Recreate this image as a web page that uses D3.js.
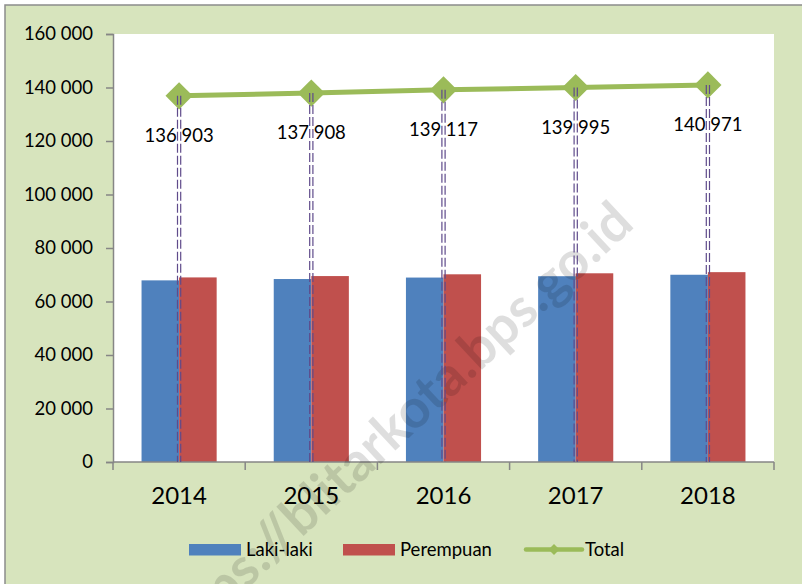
<!DOCTYPE html>
<html>
<head>
<meta charset="utf-8">
<script src="https://cdn.jsdelivr.net/npm/d3@7"></script>
<style>
  body { margin: 0; background: #ffffff; }
  svg { display: block; font-family: Lato, "Open Sans", sans-serif; }
</style>
</head>
<body>
<div id="chart"></div>
<script>
// Data
var years = ["2014", "2015", "2016", "2017", "2018"];
var lakiLaki = [67900, 68400, 68950, 69450, 70000];
var perempuan = [69003, 69508, 70167, 70545, 70971];
var total = [136903, 137908, 139117, 139995, 140971];
var yTicks = [0, 20000, 40000, 60000, 80000, 100000, 120000, 140000, 160000];
var seriesNames = ["Laki-laki", "Perempuan", "Total"];

var W = 802, H = 584;
var plot = { left: 113, right: 774, top: 34, bottom: 462 };

var colors = { laki: "#4f81bd", perempuan: "#c0504d", total: "#9bbb59", drop: "#5f4b8b", axis: "#868686" };

var fmt = d3.formatLocale({ decimal: ",", thousands: " ", grouping: [3], currency: ["", ""] }).format(",d");

var svg = d3.select("#chart")
  .append("svg")
    .attr("width", W)
    .attr("height", H);

// chart area background + frame
svg.append("rect")
  .attr("x", 5).attr("y", 5)
  .attr("width", W + 10).attr("height", H + 10)
  .style("fill", "#d7e4bd")
  .style("stroke", "#8c8c8c")
  .style("stroke-width", 1.5);

// plot area
svg.append("rect")
  .attr("x", plot.left).attr("y", plot.top)
  .attr("width", plot.right - plot.left)
  .attr("height", plot.bottom - plot.top)
  .style("fill", "#ffffff");

// scales
var x = d3.scaleBand()
  .domain(years)
  .range([plot.left, plot.right]);

var x1 = d3.scaleBand()
  .domain(["laki", "perempuan"])
  .range([0, x.bandwidth()])
  .paddingInner(0)
  .paddingOuter(0.76);

var y = d3.scaleLinear()
  .domain([0, 160000])
  .range([plot.bottom, plot.top]);

// y axis
var yAxis = svg.append("g")
  .attr("transform", "translate(" + plot.left + ",0)")
  .call(d3.axisLeft(y).tickValues(yTicks).tickFormat(fmt).tickSize(7).tickPadding(13));
yAxis.select(".domain").style("stroke", colors.axis).style("stroke-width", 1.5);
yAxis.selectAll(".tick line").style("stroke", colors.axis).style("stroke-width", 1.5);
yAxis.selectAll(".tick text")
  .style("font-family", "Lato, sans-serif")
  .style("font-size", "18.5px")
  .style("fill", "#000");

// bars
var rows = years.map(function (yr, i) {
  return { year: yr, laki: lakiLaki[i], perempuan: perempuan[i], total: total[i] };
});

var groups = svg.selectAll(".year")
  .data(rows)
  .enter()
  .append("g")
    .attr("class", "year")
    .attr("transform", d => "translate(" + x(d.year) + ",0)");

groups.selectAll("rect")
  .data(d => [{ key: "laki", v: d.laki }, { key: "perempuan", v: d.perempuan }])
  .enter()
  .append("rect")
    .attr("x", d => x1(d.key))
    .attr("y", d => y(d.v))
    .attr("width", x1.bandwidth())
    .attr("height", d => plot.bottom - y(d.v))
    .style("fill", d => colors[d.key]);

// x axis
var xAxis = svg.append("g")
  .attr("transform", "translate(0," + plot.bottom + ")");
xAxis.append("line")
  .attr("x1", plot.left).attr("x2", plot.right)
  .attr("y1", 0).attr("y2", 0)
  .style("stroke", colors.axis).style("stroke-width", 1.5);
var edges = years.map(d => x(d)).concat([plot.right]);
xAxis.selectAll(".xtick")
  .data(edges)
  .enter()
  .append("line")
    .attr("x1", d => d).attr("x2", d => d)
    .attr("y1", 0).attr("y2", 8)
    .style("stroke", colors.axis).style("stroke-width", 1.5);
xAxis.selectAll(".xlabel")
  .data(years)
  .enter()
  .append("text")
    .attr("x", d => x(d) + x.bandwidth() / 2)
    .attr("y", 42)
    .attr("text-anchor", "middle")
    .style("font-size", "24px")
    .text(d => d);

// watermark
svg.append("text")
  .attr("transform", "translate(636,226) rotate(-43)")
  .attr("text-anchor", "end")
  .style("font-size", "54px")
  .style("font-weight", "bold")
  .style("fill", "rgba(0,0,0,0.13)")
  .text("https://blitarkota.bps.go.id");

// total line
var cx = d => x(d.year) + x.bandwidth() / 2;
var line = d3.line()
  .x(cx)
  .y(d => y(d.total));

svg.append("path")
  .datum(rows)
  .attr("d", line)
  .style("fill", "none")
  .style("stroke", colors.total)
  .style("stroke-width", 5);

svg.selectAll(".marker")
  .data(rows)
  .enter()
  .append("path")
    .attr("d", d3.symbol().type(d3.symbolSquare).size(370))
    .attr("transform", d => "translate(" + cx(d) + "," + y(d.total) + ") rotate(45)")
    .style("fill", colors.total);

// drop lines (double dashed)
[-1.6, 1.6].forEach(function (off) {
  svg.selectAll(null)
    .data(rows)
    .enter()
    .append("line")
      .attr("x1", d => cx(d) + off).attr("x2", d => cx(d) + off)
      .attr("y1", d => y(d.total)).attr("y2", plot.bottom)
      .style("stroke", colors.drop)
      .style("stroke-width", 1.2)
      .style("stroke-dasharray", "9,3");
});

// value labels
svg.selectAll(".vlabel")
  .data(rows)
  .enter()
  .append("text")
    .attr("x", cx)
    .attr("y", d => y(d.total) + 46)
    .attr("text-anchor", "middle")
    .style("font-size", "18.5px")
    .text(d => fmt(d.total));

// legend
var legend = svg.append("g");
var legendItems = [
  { name: seriesNames[0], type: "bar", color: colors.laki, x: 189, tx: 246 },
  { name: seriesNames[1], type: "bar", color: colors.perempuan, x: 343, tx: 400 },
  { name: seriesNames[2], type: "line", color: colors.total, x: 526, tx: 585 }
];
legendItems.forEach(function (it) {
  if (it.type === "bar") {
    legend.append("rect")
      .attr("x", it.x).attr("y", 544)
      .attr("width", 52).attr("height", 11.5)
      .style("fill", it.color);
  } else {
    legend.append("line")
      .attr("x1", it.x).attr("x2", it.x + 56)
      .attr("y1", 549.5).attr("y2", 549.5)
      .style("stroke", it.color).style("stroke-width", 4.5)
      .style("stroke-linecap", "round");
    legend.append("path")
      .attr("d", d3.symbol().type(d3.symbolSquare).size(60))
      .attr("transform", "translate(" + (it.x + 28) + ",549.5) rotate(45)")
      .style("fill", it.color);
  }
  legend.append("text")
    .attr("x", it.tx).attr("y", 556)
    .style("font-size", "18.5px")
    .text(it.name);
});
</script>
</body>
</html>
